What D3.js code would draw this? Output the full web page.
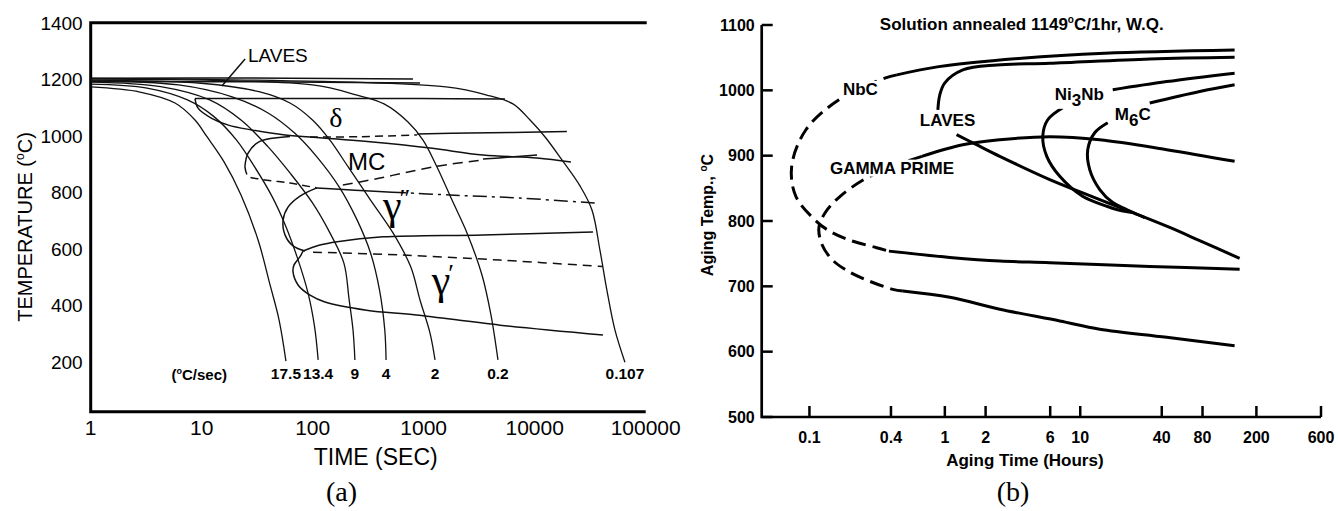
<!DOCTYPE html>
<html>
<head>
<meta charset="utf-8">
<script src="https://cdn.jsdelivr.net/npm/d3@7/dist/d3.min.js"></script>
<style>
  html, body { margin: 0; padding: 0; background: #fff; }
  svg { display: block; }
</style>
</head>
<body>
<svg id="fig" width="1338" height="511"></svg>
<script>
// ================= (a) cooling curves: time (s) vs temperature (°C) =================
const timeTicksA = [1, 10, 100, 1000, 10000, 100000];
const tempTicksA = [200, 400, 600, 800, 1000, 1200, 1400];
const coolingRates = ["17.5", "13.4", "9", "4", "2", "0.2", "0.107"];

const cool17_5 = [[1,1173],[2.78,1155],[5.75,1116],[8.7,1056],[11.2,996],[15.9,908],[22.6,791],[32.2,632],[41.3,473],[49.8,349],[57.4,204]];
const cool13_4 = [[1,1183],[3.22,1169],[7.45,1127],[12.9,1068],[20.6,985],[29.9,891],[43,786],[57.4,679],[72.2,573],[90.7,445],[104,325],[112,208]];
const cool9    = [[1,1190],[4.27,1174],[11.8,1127],[22.6,1056],[39.5,962],[62.4,869],[99.6,763],[143,657],[191,550],[213,420],[231,312],[240,208]];
const cool4    = [[1,1194],[6.19,1180],[18.8,1138],[39.6,1081],[68.7,1010],[109,926],[173,820],[251,703],[332,586],[400,455],[446,314],[458,208]];
const cool2    = [[1,1197],[9.86,1186],[32.8,1156],[62.4,1116],[99.6,1056],[143,985],[208,891],[332,773],[529,657],[764,537],[926,420],[1140,303],[1265,208]];
const cool0_2  = [[1,1201],[99.6,1180],[251,1144],[439,1113],[722,1049],[986,985],[1318,890],[1799,773],[2455,657],[3350,508],[4035,367],[4667,208]];
const cool0_107= [[1,1203],[1588,1173],[3955,1141],[6370,1113],[9080,1056],[12400,996],[17600,915],[25600,823],[32800,738],[38700,596],[44700,455],[52800,314],[65000,200]];
const coolCurves = [cool17_5, cool13_4, cool9, cool4, cool2, cool0_2, cool0_107];

// phase boundaries (time s, °C)
const lavesTop    = [[1,1204],[60,1204],[800,1201]];
const lavesLow    = [[1,1192],[30,1191],[926,1187]];
const lavesLeader = [[24.6,1272],[15.2,1176]];
const deltaTop    = [[8.7,1132],[77,1132],[926,1132],[5400,1130]];
const deltaNose   = [[8.7,1132],[9.31,1097],[12.3,1062],[17.4,1038],[28.2,1021],[56.3,1003],[94.6,996]];
const deltaMid    = [[94.6,996],[267,997],[869,1003]];
const deltaRight  = [[869,1007],[2612,1010],[19500,1015]];
const mcTop       = [[94.6,996],[328,979],[1140,957],[3420,932],[10500,922],[21200,908]];
const mcNose      = [[62.4,998],[32.8,979],[26.1,938],[24.5,891]];
const mcNoseLow   = [[24.5,891],[26.1,858],[33.5,847],[62.4,833],[109,816]];
const mcLow       = [[187,826],[404,851],[869,879],[1726,900],[3420,915]];
const mcLowEnd    = [[3420,918],[5990,925],[10500,932]];
const line800     = [[109,816],[240,808],[518,801]];
const line800Tail = [[518,801],[1726,791],[7370,780],[36400,762]];
const gppLoop     = [[109,816],[76.9,787],[59.9,748],[54.1,702],[56.3,650],[66.5,611],[85.3,593]];
const gammaMid    = [[81.8,593],[116,614],[166,626],[430,643],[3420,650],[33500,660]];
const gpDashA     = [[100.6,589],[611,579],[4866,561],[41200,538]];
const gpNoseA     = [[81.8,593],[76.9,573],[67.9,544],[66.5,519],[73.8,473],[94.6,437],[129,413],[305,384],[860,367],[4866,331],[41200,296]];

const segmentsA = [
  {d: lavesTop, dash: null}, {d: lavesLow, dash: null}, {d: lavesLeader, dash: null},
  {d: deltaTop, dash: null}, {d: deltaNose, dash: null}, {d: deltaMid, dash: "8,5"}, {d: deltaRight, dash: null},
  {d: mcTop, dash: null}, {d: mcNose, dash: null}, {d: mcNoseLow, dash: "8,5"},
  {d: mcLow, dash: "10,6"}, {d: mcLowEnd, dash: null},
  {d: line800, dash: null}, {d: line800Tail, dash: "14,5,3,5"},
  {d: gppLoop, dash: null}, {d: gammaMid, dash: null},
  {d: gpDashA, dash: "9,6"}, {d: gpNoseA, dash: null}
];

const phaseLabelsA = [
  {text: "δ", t: 162, T: 1030, serif: true, size: 28, anchor: "middle"},
  {text: "MC", t: 208, T: 879, serif: false, size: 24, anchor: "start"},
  {text: "LAVES", t: 26.1, T: 1262, serif: false, size: 19, anchor: "start"}
];

// ================= (b) aging TTT: time (h) vs temperature (°C) =================
const timeTicksB = [0.1, 0.4, 1, 2, 6, 10, 40, 80, 200, 600];
const tempTicksB = [500, 600, 700, 800, 900, 1000, 1100];

const nbcUpper   = [[0.4424,1023.7],[0.903,1036.3],[3.70,1049.2],[15.17,1056.8],[138.1,1061.8]];
const nbcNose    = [[0.4424,1023.7],[0.3605,1018.6],[0.1651,985.5],[0.0942,939.7],[0.0739,883.7],[0.0793,837.9],[0.1089,802.3],[0.1346,787],[0.1914,771.8],[0.3132,759.1],[0.3861,753.9]];
const nbcLower   = [[0.3861,753.9],[1.089,744.3],[2.546,738.6],[5.955,736.2],[32.6,730.5],[150.4,726]];
const gpUpper    = [[0.6763,899],[1.358,916.8],[2.546,924.4],[5.955,929],[13.93,924.4],[43.5,909.2],[138.1,891.3]];
const gpNose     = [[0.6763,899],[0.3926,881.7],[0.2523,863.4],[0.1679,837.4],[0.1324,814.5],[0.1175,790.1],[0.1237,764.1],[0.1466,741.2],[0.1828,726],[0.2569,710.7],[0.4130,695.4],[0.4898,692.8]];
const gpLower    = [[0.4898,692.8],[1.089,683.2],[2.546,664.9],[7.06,647],[13.93,634.4],[43.5,622.1],[138.1,608.9]];
const lavesUpper = [[0.888,970.2],[0.918,993.1],[1.0,1011.5],[1.358,1031.3],[2.42,1038.9],[5.955,1041.5],[32.6,1048.1],[138.1,1050.7]];
const lavesLower = [[1.22,932.1],[1.714,916.8],[2.546,899],[5.955,863.4],[13.93,832.8],[24.4,812.9],[45.8,790.1],[76.2,770],[150.4,742.8]];
const ni3nbUpper = [[17.38,1000.8],[43.5,1013.4],[138.1,1026.3]];
const ni3nbNose  = [[7.43,973.3],[5.755,955],[5.288,929.5],[5.66,899],[7.06,868.4],[10.4,837.9],[15.7,822.6],[18.59,817.6],[24.4,812.9]];
const m6cUpper   = [[32.6,980.5],[76.2,998.2],[138.1,1008.4]];
const m6cNose    = [[15.96,950.4],[12.79,935.1],[11.36,909.2],[11.75,878.6],[13.93,848.1],[17.38,828.2],[22.0,817.6],[29.9,805.3]];

const segmentsB = [
  {d: nbcUpper, dash: null}, {d: nbcNose, dash: "14,7"}, {d: nbcLower, dash: null},
  {d: gpUpper, dash: null}, {d: gpNose, dash: "14,7"}, {d: gpLower, dash: null},
  {d: lavesUpper, dash: null}, {d: lavesLower, dash: null},
  {d: ni3nbUpper, dash: null}, {d: ni3nbNose, dash: null},
  {d: m6cUpper, dash: null}, {d: m6cNose, dash: null}
];

const phaseLabelsB = [
  {parts: [["NbC", 0]], h: 0.1767, T: 993},
  {parts: [["LAVES", 0]], h: 0.654, T: 945},
  {parts: [["GAMMA PRIME", 0]], h: 0.1417, T: 872.5},
  {parts: [["Ni", 0], ["3", 1], ["Nb", 0]], h: 6.48, T: 985.5},
  {parts: [["M", 0], ["6", 1], ["C", 0]], h: 17.98, T: 955}
];

// ---------------------------------------------------------------------------
const SANS = "'Liberation Sans', Arial, Helvetica, sans-serif";
const SERIF = "'Liberation Serif', 'Times New Roman', serif";
const svg = d3.select("#fig");

// ---------------- panel (a) ----------------
const gA = svg.append("g").style("font-family", SANS);
const xA = d3.scaleLog().domain([1, 1e5]).range([90.7, 645.7]);
const yA = d3.scaleLinear().domain([25, 1400]).range([411.7, 22.7]);
const lineA = d3.line().x(d => xA(d[0])).y(d => yA(d[1])).curve(d3.curveCatmullRom.alpha(0.5));

gA.append("path")
  .attr("d", `M${xA(1e5) + 1},${yA(1400)}H${xA(1)}V${yA(25)}H${xA(1e5)}`)
  .attr("fill", "none").attr("stroke", "#000").attr("stroke-width", 3);

gA.selectAll("text.ty").data(tempTicksA).join("text").attr("class", "ty")
  .attr("x", xA(1) - 8).attr("y", d => yA(d)).attr("dy", "0.36em")
  .attr("text-anchor", "end").style("font-size", "19px").text(d => d);

gA.selectAll("text.tx").data(timeTicksA).join("text").attr("class", "tx")
  .attr("x", d => xA(d)).attr("y", yA(25) + 23.5)
  .attr("text-anchor", "middle").style("font-size", "21px").text(d => d);

gA.append("text").attr("x", xA(1000) - 48).attr("y", 465)
  .attr("text-anchor", "middle").style("font-size", "23px").text("TIME (SEC)");

gA.append("text").attr("transform", "translate(25,227) rotate(-90)")
  .attr("text-anchor", "middle").attr("dy", "0.36em").style("font-size", "20px")
  .call(t => {
    t.append("tspan").text("TEMPERATURE (");
    t.append("tspan").attr("dy", -8).style("font-size", "12px").text("o");
    t.append("tspan").attr("dy", 8).text("C)");
  });

gA.selectAll("path.cool").data(coolCurves).join("path").attr("class", "cool")
  .attr("d", lineA).attr("fill", "none").attr("stroke", "#111")
  .attr("stroke-width", 1.3);

gA.selectAll("path.phase").data(segmentsA).join("path").attr("class", "phase")
  .attr("d", s => lineA(s.d)).attr("fill", "none").attr("stroke", "#111")
  .attr("stroke-width", 1.5).attr("stroke-dasharray", s => s.dash);

gA.selectAll("text.rate").data(coolCurves).join("text").attr("class", "rate")
  .attr("x", d => xA(d[d.length - 1][0])).attr("y", yA(25) - 33)
  .attr("text-anchor", "middle").style("font-size", "15.5px").style("font-weight", "bold")
  .text((d, i) => coolingRates[i]);

gA.append("text").attr("x", xA(9.5)).attr("y", yA(25) - 32)
  .attr("text-anchor", "middle").style("font-size", "15px").style("font-weight", "bold")
  .call(t => {
    t.append("tspan").text("(");
    t.append("tspan").attr("dy", -6).style("font-size", "9px").text("o");
    t.append("tspan").attr("dy", 6).text("C/sec)");
  });

gA.selectAll("text.ph").data(phaseLabelsA).join("text").attr("class", "ph")
  .attr("x", d => xA(d.t)).attr("y", d => yA(d.T))
  .attr("text-anchor", d => d.anchor)
  .style("font-family", d => d.serif ? SERIF : SANS)
  .style("font-size", d => d.size + "px").text(d => d.text);

// gamma double-prime and gamma prime
const gammaLabels = [{t: 430, T: 706, mark: "″"}, {t: 1180, T: 441, mark: "′"}];
gA.selectAll("text.gm").data(gammaLabels).join("text").attr("class", "gm")
  .attr("x", d => xA(d.t)).attr("y", d => yA(d.T))
  .style("font-family", SERIF).style("font-size", "42px")
  .call(t => {
    t.append("tspan").text("γ");
    t.append("tspan").attr("dx", -2).attr("dy", -12).style("font-size", "26px").text(d => d.mark);
  });

gA.append("text").attr("x", 341.5).attr("y", 501).attr("text-anchor", "middle")
  .style("font-family", SERIF).style("font-size", "28px").text("(a)");

// ---------------- panel (b) ----------------
const gB = svg.append("g").style("font-family", SANS).style("font-weight", "bold");
const xB = d3.scaleLog().domain([0.0444, 600]).range([761.7, 1321]);
const yB = d3.scaleLinear().domain([500, 1100]).range([417, 25]);
const lineB = d3.line().x(d => xB(d[0])).y(d => yB(d[1])).curve(d3.curveCatmullRom.alpha(0.5));
const x0 = xB.range()[0];

gB.append("path")
  .attr("d", `M${x0},${yB(1100)}V${yB(500)}H${xB(600)}`)
  .attr("fill", "none").attr("stroke", "#000").attr("stroke-width", 2.7);

gB.selectAll("line.ty").data(tempTicksB).join("line").attr("class", "ty")
  .attr("x1", x0).attr("x2", x0 + 11).attr("y1", d => yB(d)).attr("y2", d => yB(d))
  .attr("stroke", "#000").attr("stroke-width", 2.5);
gB.selectAll("line.tx").data(timeTicksB).join("line").attr("class", "tx")
  .attr("x1", d => xB(d)).attr("x2", d => xB(d)).attr("y1", yB(500)).attr("y2", yB(500) - 11)
  .attr("stroke", "#000").attr("stroke-width", 2.5);

gB.selectAll("text.ty").data(tempTicksB).join("text").attr("class", "ty")
  .attr("x", x0 - 7).attr("y", d => yB(d)).attr("dy", "0.36em")
  .attr("text-anchor", "end").style("font-size", "16px").text(d => d);
gB.selectAll("text.tx").data(timeTicksB).join("text").attr("class", "tx")
  .attr("x", d => xB(d)).attr("y", 443)
  .attr("text-anchor", "middle").style("font-size", "16px").text(d => d);

gB.append("text").attr("x", xB(3.9)).attr("y", 466).attr("text-anchor", "middle")
  .style("font-size", "17px").text("Aging Time (Hours)");

gB.append("text").attr("transform", "translate(707,215) rotate(-90)")
  .attr("text-anchor", "middle").attr("dy", "0.36em").style("font-size", "16px")
  .call(t => {
    t.append("tspan").text("Aging Temp., ");
    t.append("tspan").attr("dy", -6).style("font-size", "10px").text("o");
    t.append("tspan").attr("dy", 6).text("C");
  });

gB.append("text").attr("x", xB(3.7)).attr("y", 30).attr("text-anchor", "middle")
  .style("font-size", "17px")
  .call(t => {
    t.append("tspan").text("Solution annealed 1149");
    t.append("tspan").attr("dy", -7).style("font-size", "10px").text("o");
    t.append("tspan").attr("dy", 7).text("C/1hr, W.Q.");
  });

gB.selectAll("path.phase").data(segmentsB).join("path").attr("class", "phase")
  .attr("d", s => lineB(s.d)).attr("fill", "none").attr("stroke", "#000")
  .attr("stroke-width", 3).attr("stroke-linecap", "butt")
  .attr("stroke-dasharray", s => s.dash);

// phase names sit on a white plate that breaks the boundary line behind them
const labelG = gB.selectAll("g.ph").data(phaseLabelsB).join("g").attr("class", "ph");
labelG.each(function(d) {
  const g = d3.select(this);
  const plate = g.append("rect").attr("fill", "#fff");
  const t = g.append("text").attr("x", xB(d.h)).attr("y", yB(d.T)).style("font-size", "17px");
  d.parts.forEach(([s, sub], i) => {
    const prev = i > 0 ? d.parts[i - 1][1] : 0;
    t.append("tspan").attr("dy", (sub - prev) * 6).text(s);
  });
  const bb = t.node().getBBox();
  plate.attr("x", bb.x - 2).attr("y", bb.y + 1).attr("width", bb.width + 4).attr("height", bb.height - 2);
});

gB.append("text").attr("x", 1013).attr("y", 501).attr("text-anchor", "middle")
  .style("font-family", SERIF).style("font-weight", "normal").style("font-size", "28px").text("(b)");
</script>
</body>
</html>
